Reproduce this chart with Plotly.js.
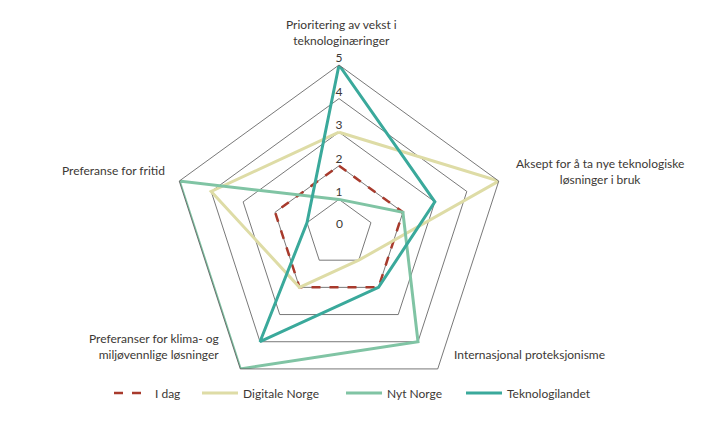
<!DOCTYPE html>
<html>
<head>
<meta charset="utf-8">
<script src="https://cdn.plot.ly/plotly-3.0.1.min.js"></script>
<style>html,body{margin:0;padding:0;background:#fff;}#chart{width:719px;height:425px;}</style>
</head>
<body>
<div id="chart"></div>
<script>
const categories = [
  "Prioritering av vekst i teknologinæringer",
  "Aksept for å ta nye teknologiske løsninger i bruk",
  "Internasjonal proteksjonisme",
  "Preferanser for klima- og miljøvennlige løsninger",
  "Preferanse for fritid"
];
const categoryLabels = [
  "Prioritering av vekst i<br>teknologinæringer",
  "Aksept for å ta nye teknologiske<br>løsninger i bruk",
  "Internasjonal proteksjonisme",
  "Preferanser for klima- og<br>miljøvennlige løsninger",
  "Preferanse for fritid"
];
const seriesNames = ["I dag", "Digitale Norge", "Nyt Norge", "Teknologilandet"];
const iDag = [2, 2, 2, 2, 2];
const digitaleNorge = [3, 5, 1, 2, 4];
const nytNorge = [1, 2, 4, 5, 5];
const teknologilandet = [5, 3, 2, 4, 1];
const radialTicks = [0, 1, 2, 3, 4, 5];
const radialTickLabels = ["0", "1", "2", "3", "4", "5"];

const seriesValues = [iDag, digitaleNorge, nytNorge, teknologilandet];
const seriesColors = ["#a83a2c", "#dedca6", "#80c4a4", "#3aa99b"];
const seriesDash = ["dash", "solid", "solid", "solid"];
const seriesWidth = [2.5, 3, 3, 3];
const legendIds = ["legend", "legend2", "legend3", "legend4"];
const legendLineStart = [113, 201, 345, 465];

const traces = seriesValues.map((vals, i) => ({
  type: "scatterpolar",
  mode: "lines",
  name: seriesNames[i],
  legend: legendIds[i],
  r: vals.concat([vals[0]]),
  theta: categories.concat([categories[0]]),
  line: {color: seriesColors[i], width: seriesWidth[i], dash: seriesDash[i]},
  hoverinfo: "skip"
}));

const tickFont = {family: "Lato, 'Open Sans', sans-serif", size: 12, color: "#3c3835"};
// radial tick labels 1..5 along the top spoke
traces.push({
  type: "scatterpolar",
  mode: "text",
  r: radialTicks.slice(1),
  theta: radialTicks.slice(1).map(() => categories[0]),
  text: radialTickLabels.slice(1),
  textposition: "top center",
  textfont: tickFont,
  showlegend: false,
  cliponaxis: false,
  hoverinfo: "skip"
});

const W = 719, H = 425, cx = 339, cy = 233, R = 168;
const font = {family: "Lato, 'Open Sans', sans-serif", size: 12, color: "#3c3835"};

const annPos = [
  {x: 341, y: 32, xanchor: "center", align: "center"},
  {x: 514, y: 171, xanchor: "left", align: "center"},
  {x: 452, y: 354, xanchor: "left", align: "left"},
  {x: 221, y: 346, xanchor: "right", align: "right"},
  {x: 167, y: 170, xanchor: "right", align: "right"}
];
const annotations = categoryLabels.map((t, i) => ({
  text: t,
  xref: "paper", yref: "paper",
  x: annPos[i].x / W, y: 1 - annPos[i].y / H,
  xanchor: annPos[i].xanchor, yanchor: "middle",
  align: annPos[i].align,
  showarrow: false,
  font: font
}));
// centre tick label "0" (Plotly hides text points exactly at the pole)
annotations.push({
  text: radialTickLabels[0],
  xref: "paper", yref: "paper",
  x: cx / W, y: 1 - cy / H,
  xanchor: "center", yanchor: "bottom",
  showarrow: false,
  font: tickFont
});

const layout = {
  width: W, height: H,
  margin: {l: 0, r: 0, t: 0, b: 0},
  paper_bgcolor: "#fff",
  font: font,
  showlegend: true,
  polar: {
    domain: {x: [(cx - R) / W, (cx + R) / W], y: [(H - cy - R) / H, (H - cy + R) / H]},
    gridshape: "linear",
    bgcolor: "rgba(0,0,0,0)",
    radialaxis: {
      range: [0, 5], dtick: 1, tick0: 0,
      showticklabels: false, ticks: "",
      showline: false,
      gridcolor: "#555555", gridwidth: 0.8
    },
    angularaxis: {
      rotation: 90, direction: "clockwise",
      showticklabels: false, ticks: "",
      showgrid: false,
      showline: true, linecolor: "#555555", linewidth: 0.8
    }
  },
  annotations: annotations
};
legendIds.forEach((id, i) => {
  layout[id] = {
    orientation: "h",
    x: (legendLineStart[i] - 4) / W, xanchor: "left",
    y: 1 - 393 / H, yanchor: "middle",
    font: font,
    itemwidth: 36,
    bgcolor: "rgba(0,0,0,0)"
  };
});

Plotly.newPlot("chart", traces, layout, {displayModeBar: false, staticPlot: true});
</script>
</body>
</html>
